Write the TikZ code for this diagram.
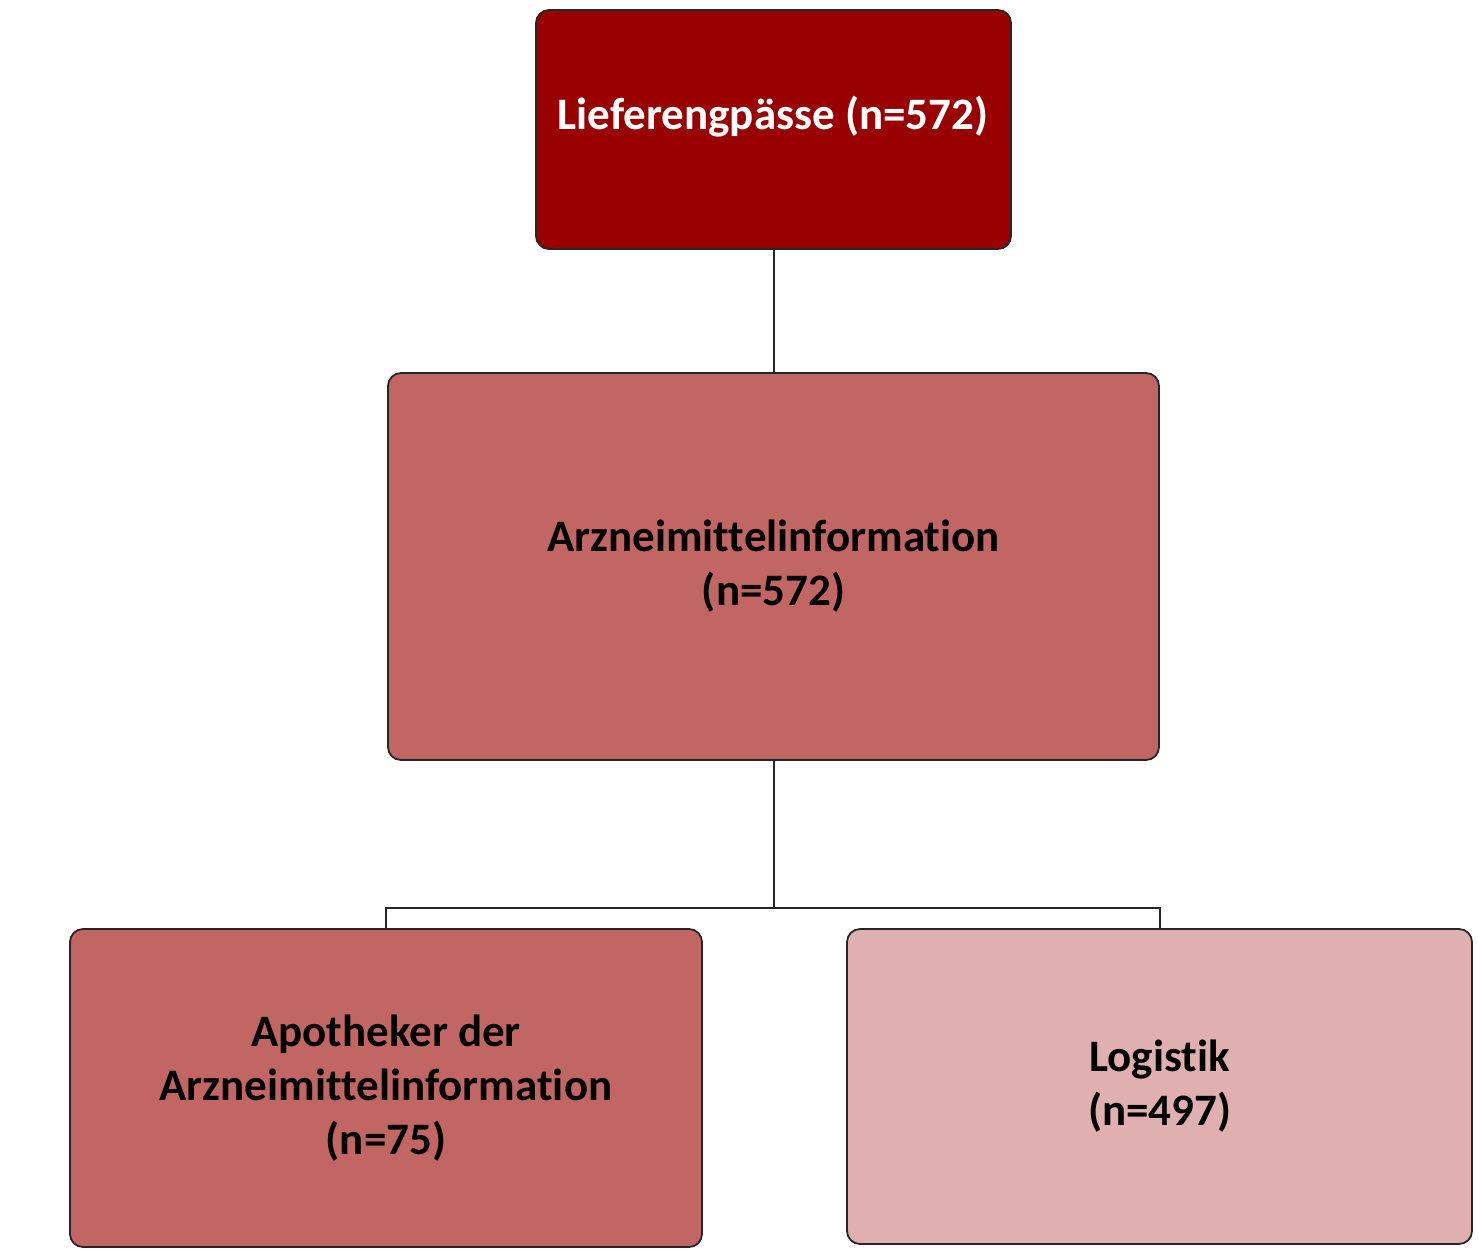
\documentclass[tikz,border=0pt]{standalone}
\usepackage{fontspec}
\setmainfont[Ligatures=NoCommon]{Carlito}
\definecolor{darkred}{HTML}{990000}
\definecolor{midred}{HTML}{C26664}
\definecolor{lightred}{HTML}{E0B0B0}
\begin{document}
\begin{tikzpicture}[x=1pt,y=-1pt,
  box/.style={draw=black!85,line width=1.8pt,rounded corners=13pt,inner sep=0pt},
  lbl/.style={font=\fontsize{45}{54}\selectfont\bfseries,align=center,inner sep=0pt},
  conn/.style={draw=black!85,line width=2pt}]
\useasboundingbox (0,0) rectangle (1479,1251);
\node[box,fill=darkred,minimum width=475pt,minimum height=239pt] (top) at (773.5,129.5) {};
\node[lbl,text=white] (toptext) at (773,117) {Lieferengpässe (n=572)};
\node[box,fill=midred,minimum width=771pt,minimum height=387pt,lbl] (mid) at (773.5,566.5) {Arzneimittelinformation\\(n=572)};
\node[box,fill=midred,minimum width=632pt,minimum height=318pt,lbl] (left) at (386,1088) {Apotheker der\\Arzneimittelinformation\\(n=75)};
\node[box,fill=lightred,minimum width=625pt,minimum height=315pt,lbl] (right) at (1159.5,1086.5) {Logistik\\(n=497)};
\coordinate (split) at (773.5,908);
\draw[conn] (top.south) -- (mid.north);
\draw[conn] (mid.south) -- (split);
\draw[conn] (left.north) |- (split) -| (right.north);
\end{tikzpicture}
\end{document}
